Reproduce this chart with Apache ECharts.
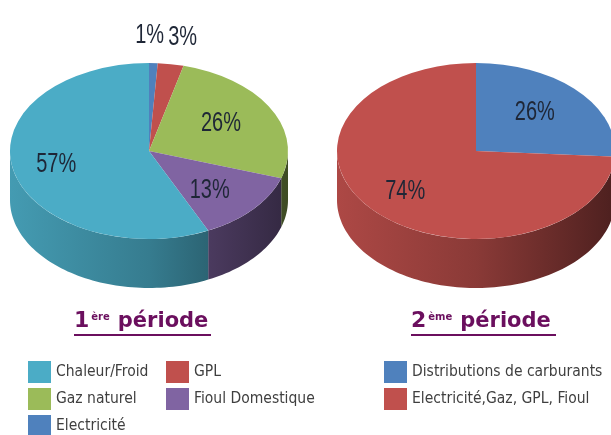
<!DOCTYPE html>
<html>
<head>
<meta charset="utf-8">
<script src="https://cdn.jsdelivr.net/npm/echarts@6/dist/echarts.min.js"></script>
<style>
  html, body { margin: 0; padding: 0; background: #fff; }
  #main { width: 611px; height: 435px; }
</style>
</head>
<body>
<div id="main"></div>
<script>
// parts de chaque période (en %), dans l'ordre horaire à partir de midi
var pie1Names = ['Electricité', 'GPL', 'Gaz naturel', 'Fioul Domestique', 'Chaleur/Froid'];
var pie1Values = [1, 3, 26, 13, 57];
var pie2Names = ['Distributions de carburants', 'Electricité,Gaz, GPL, Fioul'];
var pie2Values = [26, 74];

// colonnes de légende
var legend1ColA = ['Chaleur/Froid', 'Gaz naturel', 'Electricité'];
var legend1ColB = ['GPL', 'Fioul Domestique'];
var legend2Col = ['Distributions de carburants', 'Electricité,Gaz, GPL, Fioul'];

var colors = {
  'Electricité': '#4f81bd',
  'GPL': '#c0504d',
  'Gaz naturel': '#9bbb59',
  'Fioul Domestique': '#8064a2',
  'Chaleur/Froid': '#4bacc6',
  'Distributions de carburants': '#4f81bd',
  'Electricité,Gaz, GPL, Fioul': '#c0504d'
};

var RX = 139, RY = 88, DEPTH = 49;
var pies = [
  { names: pie1Names, values: pie1Values, cx: 149, cy: 151 },
  { names: pie2Names, values: pie2Values, cx: 476, cy: 151 }
];

var labelFont = "'Liberation Sans', Arial, sans-serif";
var legendFont = "'DejaVu Sans Condensed', 'DejaVu Sans', sans-serif";
var purple = '#6b0f5e';

function shade(hex, f) {
  var n = parseInt(hex.slice(1), 16);
  var r = Math.round(((n >> 16) & 255) * f);
  var g = Math.round(((n >> 8) & 255) * f);
  var b = Math.round((n & 255) * f);
  return 'rgb(' + r + ',' + g + ',' + b + ')';
}

function sum(arr) { return arr.reduce(function (a, b) { return a + b; }, 0); }

function makeRender(p, i) {
  return function (params, api) {
    var pie = pies[p];
    var total = sum(pie.values);
    var before = sum(pie.values.slice(0, i));
    var v = api.value(0);
    var name = pie.names[i];
    var color = colors[name];
    var cx = pie.cx, cy = pie.cy;
    var a0 = -Math.PI / 2 + 2 * Math.PI * before / total;
    var a1 = a0 + 2 * Math.PI * v / total;
    var children = [];

    // flanc (partie avant du disque)
    var s0 = Math.max(a0, 0), s1 = Math.min(a1, Math.PI);
    if (s1 > s0) {
      var steps = Math.max(2, Math.ceil((s1 - s0) / 0.03));
      var pts = [], k, a;
      for (k = 0; k <= steps; k++) {
        a = s0 + (s1 - s0) * k / steps;
        pts.push([cx + RX * Math.cos(a), cy + RY * Math.sin(a)]);
      }
      for (k = steps; k >= 0; k--) {
        a = s0 + (s1 - s0) * k / steps;
        pts.push([cx + RX * Math.cos(a), cy + RY * Math.sin(a) + DEPTH]);
      }
      children.push({
        type: 'polygon',
        shape: { points: pts },
        style: {
          fill: new echarts.graphic.LinearGradient(cx - RX, 0, cx + RX, 0, [
            { offset: 0, color: shade(color, 0.9) },
            { offset: 0.5, color: shade(color, 0.72) },
            { offset: 0.75, color: shade(color, 0.56) },
            { offset: 1, color: shade(color, 0.4) }
          ], true)
        }
      });
    }

    // dessus
    children.push({
      type: 'sector',
      shape: { cx: cx, cy: cy, r: RX, r0: 0, startAngle: a0, endAngle: a1, clockwise: true },
      originX: cx,
      originY: cy,
      scaleY: RY / RX,
      style: { fill: color }
    });

    // étiquette
    var pct = v / total;
    var mid = (a0 + a1) / 2;
    var lx, ly;
    if (pct < 0.05) {
      // petites parts : au-dessus du disque, écartées
      var small = [], j;
      for (j = 0; j < pie.values.length; j++) {
        if (pie.values[j] / total < 0.05) small.push(j);
      }
      var xs = small.map(function (j2) {
        var b2 = sum(pie.values.slice(0, j2));
        var m2 = -Math.PI / 2 + 2 * Math.PI * (b2 + pie.values[j2] / 2) / total;
        return cx + RX * 1.31 * Math.cos(m2);
      });
      var meanX = sum(xs) / xs.length;
      var idx = small.indexOf(i);
      lx = meanX + (idx - (small.length - 1) / 2) * 33;
      ly = cy + RY * 1.31 * Math.sin(mid);
    } else {
      lx = cx + RX * 0.64 * Math.cos(mid) - 6;
      ly = cy + RY * 0.66 * Math.sin(mid) + 1;
    }
    children.push({
      type: 'text',
      x: lx,
      y: ly,
      z2: 100,
      scaleX: 0.74,
      style: {
        text: v + '%',
        fill: '#1e2636',
        fontSize: 27,
        fontFamily: labelFont,
        align: 'center',
        verticalAlign: 'middle'
      }
    });

    return { type: 'group', children: children };
  };
}

var series = [];
pies.forEach(function (pie, p) {
  pie.names.forEach(function (name, i) {
    series.push({
      type: 'custom',
      name: name,
      coordinateSystem: 'none',
      itemStyle: { color: colors[name] },
      silent: true,
      data: [pie.values[i]],
      renderItem: makeRender(p, i)
    });
  });
});

function legendAt(names, left) {
  return {
    orient: 'vertical',
    left: left,
    top: 361,
    height: 120,
    padding: 0,
    itemWidth: 23,
    itemHeight: 22,
    itemGap: 5,
    icon: 'rect',
    selectedMode: false,
    data: names,
    textStyle: { fontSize: 15.5, fontFamily: legendFont, color: '#3f3f3f' }
  };
}

var titleRich = {
  n: { fontSize: 22, fontWeight: 'bold', fontFamily: 'DejaVu Sans', color: purple, lineHeight: 26, verticalAlign: 'bottom' },
  s: { fontSize: 10, fontWeight: 'bold', fontFamily: 'DejaVu Sans', color: purple, lineHeight: 10, verticalAlign: 'top', padding: [6, 3, 0, 2] },
  w: { fontSize: 21, fontWeight: 'bold', fontFamily: 'DejaVu Sans', color: purple, lineHeight: 26, verticalAlign: 'bottom' }
};

var myChart = echarts.init(document.getElementById('main'), null, { renderer: 'canvas' });
myChart.setOption({
  animation: false,
  title: [
    { left: 74, top: 306, padding: 0, text: '{n|1}{s|ère} {w|période}', textStyle: { rich: titleRich } },
    { left: 411, top: 306, padding: 0, text: '{n|2}{s|ème} {w|période}', textStyle: { rich: titleRich } }
  ],
  graphic: [
    { type: 'rect', shape: { x: 74, y: 334, width: 137, height: 2 }, style: { fill: purple } },
    { type: 'rect', shape: { x: 411, y: 334, width: 145, height: 2 }, style: { fill: purple } }
  ],
  legend: [
    legendAt(legend1ColA, 28),
    legendAt(legend1ColB, 166),
    legendAt(legend2Col, 384)
  ],
  series: series
});
</script>
</body>
</html>
